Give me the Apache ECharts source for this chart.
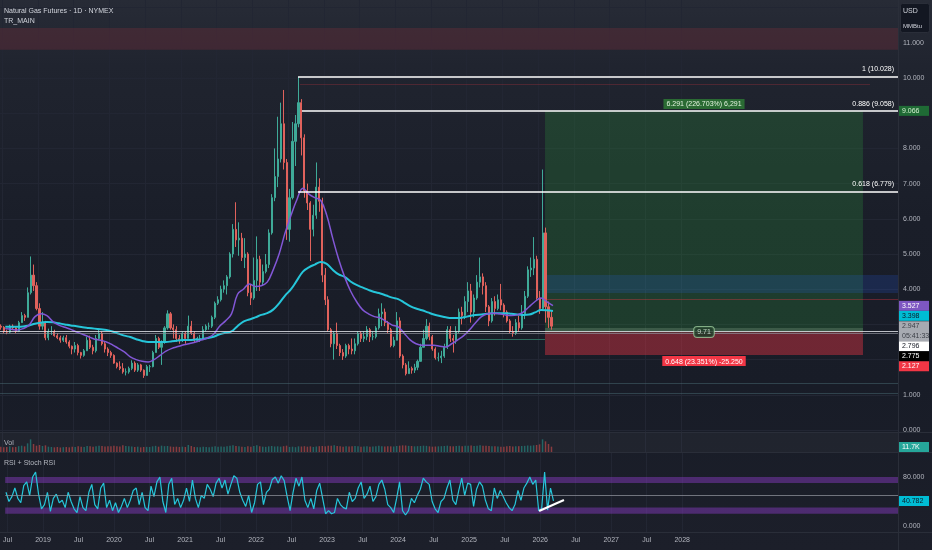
<!DOCTYPE html>
<html><head><meta charset="utf-8">
<script src="https://cdn.jsdelivr.net/npm/echarts@6/dist/echarts.min.js"></script>
<style>
html,body{margin:0;padding:0;width:932px;height:550px;overflow:hidden;
background:linear-gradient(180deg,#272b36 0%,#20242f 12%,#1a1e29 40%,#181c27 70%,#1c1f2a 100%);}
#c{width:932px;height:550px;}
</style></head><body><div id="c"></div>
<script>
const FONT = '"Liberation Sans Narrow","Liberation Sans",Roboto,sans-serif';
const FS = 7;

// ---------- DATA ----------
// semi-monthly candles [open, close, low, high], first = 2018 Jun (2nd half)
const candleOHLC = [
 // 2018
 [2.95,2.92,2.85,3.00],[2.92,2.80,2.75,2.95],[2.80,2.78,2.72,2.85],[2.78,2.95,2.75,2.99],[2.95,2.90,2.85,3.00],
 [2.90,2.80,2.75,2.95],[2.80,3.05,2.78,3.10],[3.05,3.25,3.05,3.35],[3.25,3.20,3.10,3.30],[3.20,3.90,3.20,4.05],
 [3.90,4.40,3.85,4.93],[4.40,4.10,3.95,4.70],[4.10,3.45,3.40,4.20],
 // 2019
 [3.45,2.95,2.85,3.60],[2.95,3.05,2.85,3.35],[3.05,2.62,2.55,3.10],[2.62,2.80,2.55,2.88],[2.80,2.80,2.70,2.95],
 [2.80,2.68,2.65,2.85],[2.68,2.62,2.58,2.75],[2.62,2.55,2.48,2.68],[2.55,2.62,2.50,2.68],[2.62,2.50,2.45,2.70],
 [2.50,2.38,2.32,2.55],[2.38,2.30,2.15,2.40],[2.30,2.40,2.20,2.50],[2.40,2.20,2.12,2.45],[2.20,2.12,2.03,2.22],
 [2.12,2.25,2.08,2.30],[2.25,2.55,2.25,2.65],[2.55,2.35,2.30,2.68],[2.35,2.25,2.15,2.42],[2.25,2.60,2.20,2.70],
 [2.60,2.75,2.55,2.88],[2.75,2.45,2.40,2.80],[2.45,2.30,2.20,2.50],[2.30,2.20,2.10,2.35],
 // 2020
 [2.20,2.12,2.05,2.25],[2.12,1.90,1.88,2.15],[1.90,1.80,1.75,1.92],[1.80,1.75,1.70,1.95],[1.75,1.65,1.60,1.90],
 [1.65,1.65,1.55,1.75],[1.65,1.75,1.60,1.80],[1.75,1.90,1.70,1.98],[1.90,1.70,1.65,1.95],[1.70,1.85,1.65,1.90],
 [1.85,1.70,1.65,1.88],[1.70,1.55,1.48,1.72],[1.55,1.80,1.55,1.85],[1.80,1.80,1.65,1.85],[1.80,2.20,1.78,2.25],
 [2.20,2.60,2.20,2.70],[2.60,2.35,2.30,2.65],[2.35,2.50,1.85,2.55],[2.50,2.90,2.45,2.95],[2.90,3.30,2.85,3.40],
 [3.30,2.90,2.85,3.35],[2.90,2.85,2.60,3.00],[2.85,2.60,2.50,2.95],[2.60,2.55,2.45,2.70],
 // 2021
 [2.55,2.75,2.50,2.80],[2.75,2.60,2.45,2.80],[2.60,2.95,2.60,3.25],[2.95,2.75,2.70,3.10],[2.75,2.55,2.50,2.80],
 [2.55,2.60,2.50,2.65],[2.60,2.60,2.50,2.70],[2.60,2.85,2.60,2.95],[2.85,2.95,2.80,3.00],[2.95,2.95,2.85,3.05],
 [2.95,3.20,2.90,3.25],[3.20,3.60,3.15,3.65],[3.60,3.70,3.55,3.80],[3.70,4.00,3.65,4.10],[4.00,4.10,3.90,4.25],
 [4.10,4.35,3.85,4.40],[4.35,5.00,4.30,5.05],[5.00,5.70,4.90,5.85],[5.70,5.40,5.20,6.47],[5.40,5.45,4.95,5.90],
 [5.45,4.90,4.80,5.60],[4.90,5.00,4.60,5.45],[5.00,3.90,3.80,5.05],[3.90,3.75,3.55,4.15],
 // 2022
 [3.75,4.25,3.70,4.90],[4.25,4.85,3.95,5.50],[4.85,4.20,3.95,4.95],[4.20,4.50,4.10,4.70],[4.50,4.70,4.45,5.00],
 [4.70,5.60,4.60,5.70],[5.60,6.60,5.55,6.70],[6.60,7.20,6.50,8.00],[7.20,7.70,6.90,8.90],[7.70,8.70,7.60,9.30],
 [8.70,7.60,7.40,9.66],[7.60,5.70,5.40,7.70],[5.70,6.60,5.35,6.85],[6.60,8.20,6.55,8.75],[8.20,8.70,7.50,8.95],
 [8.70,9.30,8.60,10.03],[9.30,8.30,7.80,9.40],[8.30,6.80,6.60,8.40],[6.80,6.45,6.25,7.00],[6.45,5.70,4.80,6.50],
 [5.70,6.10,5.50,6.40],[6.10,6.90,6.00,7.60],[6.90,6.50,6.20,7.15],[6.50,4.40,4.20,6.60],
 // 2023
 [4.40,3.70,3.55,4.60],[3.70,2.85,2.80,3.80],[2.85,2.45,2.35,2.90],[2.45,2.75,2.00,2.80],[2.75,2.40,2.30,3.05],
 [2.40,2.20,2.10,2.45],[2.20,2.10,1.99,2.30],[2.10,2.40,2.05,2.45],[2.40,2.30,2.15,2.45],[2.30,2.25,2.15,2.60],
 [2.25,2.45,2.15,2.60],[2.45,2.75,2.40,2.80],[2.75,2.60,2.50,2.80],[2.60,2.65,2.50,2.80],[2.65,2.85,2.55,2.95],
 [2.85,2.65,2.50,2.90],[2.65,2.65,2.55,2.80],[2.65,2.90,2.60,2.95],[2.90,3.30,2.85,3.45],[3.30,3.35,2.95,3.60],
 [3.35,3.05,2.95,3.45],[3.05,2.85,2.75,3.10],[2.85,2.40,2.35,2.90],[2.40,2.55,2.35,2.65],
 // 2024
 [2.55,3.10,2.55,3.35],[3.10,2.10,2.05,3.20],[2.10,1.85,1.75,2.15],[1.85,1.60,1.55,1.90],[1.60,1.75,1.60,1.95],
 [1.75,1.70,1.60,1.80],[1.70,1.78,1.62,1.88],[1.78,1.95,1.70,2.00],[1.95,2.35,1.95,2.45],[2.35,2.60,2.35,2.85],
 [2.60,2.95,2.55,3.15],[2.95,2.65,2.55,3.05],[2.65,2.30,2.25,2.70],[2.30,2.05,2.00,2.35],[2.05,2.05,1.95,2.20],
 [2.05,2.10,1.90,2.25],[2.10,2.35,2.05,2.45],[2.35,2.85,2.30,2.95],[2.85,2.60,2.50,2.95],[2.60,2.55,2.20,2.70],
 [2.55,2.80,2.45,2.95],[2.80,3.35,2.75,3.45],[3.35,3.25,3.00,3.50],[3.25,3.65,3.15,3.80],
 // 2025
 [3.65,3.95,3.35,4.20],[3.95,3.35,3.05,4.15],[3.35,3.75,3.20,3.85],[3.75,4.20,3.70,4.40],[4.20,4.35,4.05,4.90],
 [4.35,4.10,3.85,4.45],[4.10,3.50,3.35,4.20],[3.50,3.10,2.95,3.55],[3.10,3.65,3.05,3.75],[3.65,3.45,3.25,3.80],
 [3.45,3.70,3.40,3.85],[3.70,3.55,3.40,4.15],[3.55,3.35,3.20,3.60],[3.35,3.10,3.05,3.40],[3.10,2.80,2.75,3.15],
 [2.80,2.75,2.65,2.95],[2.75,3.05,2.70,3.15],[3.05,2.90,2.80,3.25],[2.90,3.30,2.85,3.55],[3.30,3.80,3.15,3.95],
 [3.80,4.55,3.75,4.65],[4.55,4.60,4.35,4.90],[4.60,4.85,4.40,5.48],[4.85,3.75,3.70,4.95],
 // 2026
 [3.75,3.45,3.30,3.95],[3.45,5.60,3.40,7.40],[5.60,3.50,3.05,5.75],[3.50,3.20,2.90,3.65],[3.20,2.95,2.85,3.40]
];

// semi-monthly volume (K), same periods as candles
const volumeK = [
 160,140,150,170,145,150,175,190,170,260,380,240,190,
 210,180,200,160,150,140,150,135,145,150,140,160,150,170,160,150,180,170,160,175,190,180,165,170,
 175,190,170,165,200,180,170,165,150,160,140,150,155,150,170,185,160,190,175,180,165,155,160,150,
 160,150,210,180,150,145,140,155,150,145,160,170,155,165,160,170,190,200,180,170,160,150,170,160,
 180,200,170,160,155,170,180,165,170,160,175,190,150,160,145,170,165,175,160,170,150,165,175,180,
 170,185,190,200,180,175,160,170,165,175,180,170,160,165,170,160,165,175,185,170,165,175,170,165,
 180,190,200,195,185,180,170,175,180,190,185,170,160,165,170,175,180,190,175,170,180,185,175,190,
 185,195,180,190,200,185,190,180,175,170,165,160,155,170,180,165,170,175,180,185,195,190,200,210,
 230,380,320,240,160
];

// semi-monthly RSI, same periods as candles
const rsiValues = [
 55,40,48,62,45,38,66,72,50,80,88,52,28,
 35,55,24,45,52,38,42,30,55,40,28,22,48,30,25,55,68,35,28,62,70,30,42,25,
 38,22,32,45,30,42,58,62,35,55,30,25,65,48,72,80,40,22,68,78,35,45,30,42,
 62,40,75,45,30,50,45,68,60,48,70,78,62,75,52,68,82,78,55,42,32,50,22,38,
 68,72,35,55,60,76,80,70,82,74,48,25,55,78,65,80,42,30,45,28,58,70,45,20,
 25,20,22,45,35,30,28,55,40,45,62,72,45,52,65,40,48,68,75,60,35,30,22,45,
 72,25,18,25,45,38,50,60,78,72,68,40,28,22,40,45,62,75,42,35,58,78,50,70,
 68,32,60,72,65,42,28,25,62,45,58,48,38,30,25,35,58,42,62,70,80,68,75,25,
 28,88,26,62,41
];

// monthly moving averages, first = 2018 Jul
const maPurple = [
 2.88,2.86,2.84,2.88,2.98,3.22,3.30,3.25,3.08,2.98,2.92,2.86,
 2.78,2.72,2.65,2.58,2.55,2.50,2.42,2.32,2.22,2.08,2.00,1.95,
 1.93,2.00,2.12,2.24,2.32,2.37,2.42,2.46,2.50,2.56,2.62,2.72,
 2.95,3.10,3.30,3.85,4.00,4.15,4.08,4.10,4.20,4.55,5.00,5.60,
 6.10,6.55,6.87,6.70,6.60,6.52,6.10,5.45,4.85,4.35,3.95,3.65,
 3.42,3.30,3.22,3.18,3.08,2.98,2.93,2.75,2.56,2.45,2.41,2.41,
 2.41,2.38,2.36,2.45,2.56,2.68,2.85,3.05,3.22,3.30,3.32,3.30,
 3.27,3.25,3.27,3.35,3.50,3.65,3.75,3.64,3.53
];
const maCyan = [
 2.93,2.93,2.93,2.94,2.97,3.02,3.05,3.07,3.06,3.03,3.00,2.97,
 2.95,2.92,2.90,2.88,2.86,2.84,2.80,2.74,2.68,2.64,2.58,2.53,
 2.50,2.50,2.50,2.50,2.52,2.54,2.56,2.56,2.57,2.58,2.61,2.65,
 2.72,2.76,2.80,2.95,3.08,3.14,3.20,3.27,3.32,3.42,3.60,3.82,
 4.00,4.25,4.50,4.62,4.70,4.77,4.72,4.55,4.42,4.35,4.22,4.12,
 4.05,3.98,3.92,3.88,3.82,3.76,3.72,3.62,3.52,3.45,3.40,3.34,
 3.28,3.24,3.20,3.18,3.18,3.20,3.24,3.27,3.28,3.30,3.32,3.32,
 3.32,3.30,3.28,3.27,3.28,3.34,3.41,3.40,3.38
];

const timeTicks = [2018.5,2019,2019.5,2020,2020.5,2021,2021.5,2022,2022.5,2023,2023.5,2024,2024.5,2025,2025.5,2026,2026.5,2027,2027.5,2028];
const priceTickLabels = [0,1,4,5,6,7,8,10,11];
const priceGrid = [0,1,2,3,4,5,6,7,8,9,10,11,12];
const rsiTickLabels = [0,80];
const rsiBands = [[70,80],[20,30]];

const fibLevels = [
 {ratio:'1', value:10.028, start:2022.640},
 {ratio:'0.886', value:9.058, start:2022.695},
 {ratio:'0.618', value:6.779, start:2022.640}
];
const position = {start:2026.097, end:2030.548, entry:2.775, target:9.066, stop:2.127,
 targetLabel:'6.291 (226.703%) 6,291', stopLabel:'0.648 (23.351%) -25.250', ratioLabel:'9.71'};
const rsiTrend = [[2025.985,24.5],[2026.335,42.4]];

const priceTags = [
 {v:9.066, bg:'#1f6b35', fg:'#d4f0cf'},
 {v:3.527, bg:'#7e57c2', fg:'#ffffff'},
 {v:3.398, bg:'#00bcd4', fg:'#0c1b26'},
 {v:2.947, sub:'05:41:33', bg:'#a7aab1', fg:'#3b3e46'},
 {v:2.796, bg:'#ffffff', fg:'#131722'},
 {v:2.775, bg:'#000000', fg:'#ffffff'},
 {v:2.127, bg:'#f23645', fg:'#ffffff'}
];
const volumeTag = {v:11.7, text:'11.7K'};
const rsiTag = {v:40.782};

// ---------- BUILD ----------
const tMin = 2018.468, tMax = 2031.038;
function halfMonthT(i){ const m = 11 + i; return 2018 + Math.floor(m/24) + ((m%24)+0.5)/24; }
function monthT(k){ const m = 6 + k; return 2018 + Math.floor(m/12) + ((m%12)+0.5)/12; }

const candleData = candleOHLC.map((c,i)=>[halfMonthT(i), c[0], c[1], c[2], c[3]]);
const volData = volumeK.map((v,i)=>{
  const c = candleOHLC[i]; const up = c[1] >= c[0];
  return {value:[halfMonthT(i), v], itemStyle:{color: up ? 'rgba(38,166,154,0.5)' : 'rgba(239,83,80,0.5)'}};
});
const rsiData = rsiValues.map((v,i)=>[halfMonthT(i), v]);
const purpleData = maPurple.map((v,k)=>[monthT(k), v]);
const cyanData = maCyan.map((v,k)=>[monthT(k), v]);

const lbl = {color:'#b2b5be', fontSize:FS, fontFamily:FONT};
const xFmt = v => Math.abs(v - Math.round(v)) < 0.01 ? String(Math.round(v)) : 'Jul';
function xAxisFor(g, showLabel){
  return {type:'value', gridIndex:g, min:tMin, max:tMax,
    axisLine:{show:false}, axisTick:{show:false, customValues:timeTicks},
    splitLine:{show:true, lineStyle:{color:'#222633', width:1}},
    axisLabel: showLabel ? Object.assign({show:true, customValues:timeTicks, formatter:xFmt, margin:5}, lbl) : {show:false}};
}

function hline(v, t0, t1, color, width){
  return [{coord:[t0, v], lineStyle:{color, width, type:'solid'}}, {coord:[t1, v]}];
}

const option = {
  animation:false,
  backgroundColor:'transparent',
  grid:[
    {left:0, right:34, top:0, height:432},
    {left:0, right:34, top:432, height:20},
    {left:0, right:34, top:452, height:80}
  ],
  xAxis:[xAxisFor(0,false), xAxisFor(1,false), xAxisFor(2,true)],
  yAxis:[
    {type:'value', gridIndex:0, position:'right', min:-0.057, max:12.216,
     axisLine:{show:false}, axisTick:{show:false, customValues:priceGrid},
     splitLine:{show:true, lineStyle:{color:'#222633'}},
     axisLabel:Object.assign({customValues:priceTickLabels, formatter:v=>v.toFixed(3), margin:5, align:'left'}, lbl)},
    {type:'value', gridIndex:1, min:0, max:600, show:false},
    {type:'value', gridIndex:2, position:'right', min:-9.8, max:120.8,
     axisLine:{show:false}, axisTick:{show:false, customValues:rsiTickLabels}, splitLine:{show:false},
     axisLabel:Object.assign({customValues:rsiTickLabels, formatter:v=>v.toFixed(3), margin:5, align:'left'}, lbl)}
  ],
  series:[
    {name:'areas', type:'line', xAxisIndex:0, yAxisIndex:0, data:[], z:1, silent:true,
     markArea:{silent:true, data:[
       [{coord:[tMin,10.80], itemStyle:{color:'rgba(242,54,69,0.14)'}}, {coord:[tMax,11.42]}],
       [{coord:[position.start,position.entry], itemStyle:{color:'rgba(46,150,62,0.26)'},
         label:{show:true, position:'top', distance:2, formatter:position.targetLabel, color:'#e3f3df', fontSize:FS, fontFamily:FONT,
                backgroundColor:'#2a6a33', padding:[2,3,1,3]}},
        {coord:[position.end,position.target]}],
       [{coord:[position.start,position.stop], itemStyle:{color:'rgba(242,54,69,0.40)'},
         label:{show:true, position:'bottom', distance:1, formatter:position.stopLabel, color:'#ffffff', fontSize:FS, fontFamily:FONT,
                backgroundColor:'#f23645', padding:[2,3,1,3]}},
        {coord:[position.end,position.entry]}],
       [{coord:[position.start,3.89], itemStyle:{color:'rgba(41,98,255,0.17)'}}, {coord:[tMax,4.40]}],
       [{coord:[position.start,position.entry], itemStyle:{color:'rgba(170,200,170,0.22)'}}, {coord:[position.end,2.90]}]
     ]}},
    {name:'levels', type:'line', xAxisIndex:0, yAxisIndex:0, data:[], z:2, silent:true,
     markLine:{silent:true, symbol:['none','none'], label:{show:false}, lineStyle:{type:'solid'}, data:[
       hline(2.796, tMin, tMax, 'rgba(220,222,228,0.85)', 1),
       hline(2.755, tMin, tMax, 'rgba(140,143,152,0.7)', 1),
       hline(2.585, 2025.005, position.start, '#2c6a5d', 1),
       hline(1.335, tMin, tMax, 'rgba(70,100,110,0.55)', 1),
       hline(1.050, tMin, tMax, 'rgba(70,100,110,0.55)', 1),
       hline(9.83, 2022.667, 2030.646, 'rgba(242,54,69,0.22)', 1),
       hline(3.72, position.start, tMax, 'rgba(242,54,69,0.35)', 1)
     ]}},
    {name:'price', type:'candlestick', xAxisIndex:0, yAxisIndex:0, data:candleData, z:3,
     encode:{x:0, y:[1,2,3,4]}, barWidth:1.6,
     itemStyle:{color:'#3faa98', color0:'#e0625c', borderColor:'#3faa98', borderColor0:'#e0625c', borderWidth:1}},
    {name:'maSlow', type:'line', xAxisIndex:0, yAxisIndex:0, data:cyanData, smooth:0.4, showSymbol:false, z:4,
     lineStyle:{color:'#26c6da', width:2}},
    {name:'maFast', type:'line', xAxisIndex:0, yAxisIndex:0, data:purpleData, smooth:0.4, showSymbol:false, z:4,
     lineStyle:{color:'#8257d6', width:1.5}},
    {name:'fib', type:'line', xAxisIndex:0, yAxisIndex:0, data:[], z:5, silent:true,
     markLine:{silent:true, symbol:['none','none'],
       lineStyle:{color:'#ffffff', width:1.5, type:'solid'},
       label:{show:true, position:'insideEndTop', formatter:'{b}', color:'#ffffff', fontSize:FS, fontFamily:FONT, distance:4},
       data:fibLevels.map(f=>[{name:f.ratio+' ('+f.value.toFixed(3)+')', coord:[f.start,f.value]}, {coord:[tMax,f.value]}])}},
    {name:'ratio', type:'scatter', xAxisIndex:0, yAxisIndex:0, z:6, symbolSize:0, silent:true,
     data:[[(position.start+position.end)/2, 2.785]],
     label:{show:true, position:'inside', formatter:position.ratioLabel, color:'#e8f5e9', fontSize:FS, fontFamily:FONT,
            backgroundColor:'#1d3b27', borderColor:'#9ccc9c', borderWidth:1, borderRadius:3, padding:[2,3,1,3]}},
    {name:'vol', type:'bar', xAxisIndex:1, yAxisIndex:1, data:volData, barWidth:1.5, z:3},
    {name:'rsi', type:'line', xAxisIndex:2, yAxisIndex:2, data:rsiData, showSymbol:false, z:4,
     lineStyle:{color:'#26c6da', width:1.2},
     markArea:{silent:true, itemStyle:{color:'rgba(140,60,200,0.45)'},
       data:rsiBands.map(b=>[{coord:[tMin,b[0]]},{coord:[tMax,b[1]]}])},
     markLine:{silent:true, symbol:['none','none'], label:{show:false},
       lineStyle:{color:'rgba(150,153,162,0.7)', width:1, type:'solid'},
       data:[[{coord:[tMin,50]},{coord:[tMax,50]}]]}},
    {name:'rsiTrend', type:'line', xAxisIndex:2, yAxisIndex:2, data:rsiTrend, showSymbol:false, z:5,
     lineStyle:{color:'#ffffff', width:2}}
  ]
};

const chart = echarts.init(document.getElementById('c'));
chart.setOption(option);

// ---------- overlay texts and axis tags ----------
function txt(x, y, s, fill, size, align){
  return {type:'text', x, y, z:100, silent:true,
    style:{text:s, fill, font:(size||FS)+'px '+FONT, align:align||'left', textAlign:align||'left',
           verticalAlign:'middle', textVerticalAlign:'middle'}};
}
const els = [
  {type:'rect', z:0, silent:true, shape:{x:0,y:432,width:898,height:20}, style:{fill:'rgba(255,255,255,0.03)'}},
  {type:'line', z:90, silent:true, shape:{x1:0,y1:432.5,x2:932,y2:432.5}, style:{stroke:'#2a2e39', lineWidth:1}},
  {type:'line', z:90, silent:true, shape:{x1:0,y1:452.5,x2:932,y2:452.5}, style:{stroke:'#2a2e39', lineWidth:1}},
  {type:'line', z:90, silent:true, shape:{x1:0,y1:532.5,x2:932,y2:532.5}, style:{stroke:'#2a2e39', lineWidth:1}},
  {type:'line', z:90, silent:true, shape:{x1:898.5,y1:0,x2:898.5,y2:550}, style:{stroke:'#2a2e39', lineWidth:1}},
  txt(4, 11, 'Natural Gas Futures · 1D · NYMEX', '#d1d4dc', 7),
  txt(4, 21, 'TR_MAIN', '#d1d4dc', 7),
  txt(4, 443, 'Vol', '#b2b5be', 7),
  txt(4, 463, 'RSI + Stoch RSI', '#b2b5be', 7),
  {type:'rect', z:95, silent:true, shape:{x:900.5,y:3.5,width:29,height:29, r:2}, style:{fill:'#131722', stroke:'#2a2e39'}},
  txt(903, 11, 'USD', '#d1d4dc', 7),
  txt(903, 26, 'MMBtu', '#d1d4dc', 6)
];
function tag(top, h, bg, fg, lines){
  els.push({type:'rect', z:96, silent:true, shape:{x:899,y:top,width:30,height:h}, style:{fill:bg}});
  lines.forEach((s,i)=>els.push(txt(902, top+5+i*10, s, fg, FS)));
}
let lastBottom = -1e9;
priceTags.slice().sort((a,b)=>b.v-a.v).forEach(t=>{
  const h = t.sub ? 20 : 10;
  let top = chart.convertToPixel({yAxisIndex:0}, t.v) - 5;
  if (top < lastBottom) top = lastBottom;
  lastBottom = top + h;
  tag(top, h, t.bg, t.fg, t.sub ? [t.v.toFixed(3), t.sub] : [t.v.toFixed(3)]);
});
{
  let y = chart.convertToPixel({yAxisIndex:1}, volumeTag.v);
  y = Math.max(437, Math.min(447, y));
  tag(y-5, 10, '#26a69a', '#ffffff', [volumeTag.text]);
  const yr = chart.convertToPixel({yAxisIndex:2}, rsiTag.v);
  tag(yr-5, 10, '#00bcd4', '#0c1b26', [rsiTag.v.toFixed(3)]);
}
chart.setOption({graphic:{elements:els}});
</script></body></html>
